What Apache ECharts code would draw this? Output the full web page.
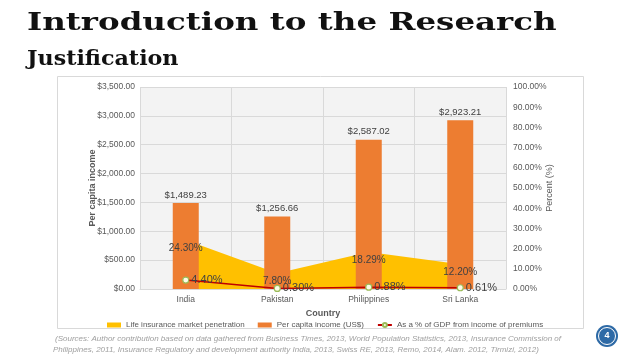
<!DOCTYPE html>
<html>
<head>
<meta charset="utf-8">
<script src="https://cdn.jsdelivr.net/npm/echarts@6/dist/echarts.min.js"></script>
<style>
html,body{margin:0;padding:0;background:#fff;}
#chart{width:638px;height:359px;}
</style>
</head>
<body>
<div id="chart"></div>
<script>
var countries = ['India', 'Pakistan', 'Philippines', 'Sri Lanka'];
var penetration = [24.30, 7.80, 18.29, 12.20];
var perCapitaIncome = [1489.23, 1256.66, 2587.02, 2923.21];
var gdpShare = [4.40, 0.30, 0.88, 0.61];
var seriesNames = ['Life insurance market penetration', 'Per capita income (US$)', 'As a % of GDP from income of premiums'];

function money(v) {
  return '$' + Number(v).toLocaleString('en-US', {minimumFractionDigits: 2, maximumFractionDigits: 2});
}
function pct(v) { return Number(v).toFixed(2) + '%'; }

var chart = echarts.init(document.getElementById('chart'), null, {renderer: 'canvas'});
var axisText = {color: '#595959', fontSize: 8.5, fontFamily: 'Liberation Sans'};

chart.setOption({
  backgroundColor: '#ffffff',
  animation: false,
  graphic: [
    {type: 'rect', z: -10, shape: {x: 57.5, y: 76.5, width: 526, height: 252}, style: {fill: '#fff', stroke: '#d9d9d9', lineWidth: 1}},
    {type: 'text', x: 27, y: 11, scaleX: 1.3, style: {x: 0, y: 0, text: 'Introduction to the Research', font: 'bold 25px "DejaVu Serif"', fill: '#111', verticalAlign: 'top'}},
    {type: 'text', x: 27, y: 50, scaleX: 1.11, style: {x: 0, y: 0, text: 'Justification', font: 'bold 20px "DejaVu Serif"', fill: '#111', verticalAlign: 'top'}},
    {type: 'text', left: 55, top: 335, style: {text: '(Sources: Author contribution based on data gathered from Business Times, 2013, World Population Statistics, 2013, Insurance Commission of', font: 'italic 8px "Liberation Sans"', fill: '#a0a0a0'}},
    {type: 'text', left: 53, top: 346, style: {text: 'Philippines, 2011, Insurance Regulatory and development authority India, 2013, Swiss RE, 2013, Remo, 2014, Alam. 2012, Tirmizi, 2012)', font: 'italic 8px "Liberation Sans"', fill: '#a0a0a0'}},
    {type: 'circle', shape: {cx: 607, cy: 336, r: 11}, style: {fill: '#2e6aa6'}},
    {type: 'circle', shape: {cx: 607, cy: 336, r: 8.5}, style: {fill: 'none', stroke: '#ffffff', lineWidth: 1}},
    {type: 'text', x: 607, y: 336, style: {text: '4', font: 'bold 9px "Liberation Sans"', fill: '#fff', align: 'center', verticalAlign: 'middle'}}
  ],
  grid: {left: 140, right: 132, top: 87, bottom: 70, show: true, backgroundColor: '#f3f3f3', borderWidth: 0},
  legend: {
    left: 102, top: 316, itemWidth: 14, itemHeight: 5, itemGap: 13,
    textStyle: {color: '#595959', fontSize: 8, fontFamily: 'Liberation Sans'},
    data: [
      {name: seriesNames[0], icon: 'rect'},
      {name: seriesNames[1], icon: 'rect'},
      {name: seriesNames[2]}
    ]
  },
  xAxis: {
    type: 'category', data: countries,
    name: 'Country', nameLocation: 'middle', nameGap: 17,
    nameTextStyle: {color: '#595959', fontSize: 9, fontWeight: 'bold', fontFamily: 'Liberation Sans'},
    axisLine: {lineStyle: {color: '#d9d9d9'}},
    axisTick: {show: false},
    axisLabel: Object.assign({margin: 6}, axisText),
    splitLine: {show: true, lineStyle: {color: '#d9d9d9'}}
  },
  yAxis: [
    {
      type: 'value', min: 0, max: 3500, interval: 500,
      name: 'Per capita income', nameLocation: 'middle', nameGap: 43, nameRotate: 90, nameMoveOverlap: false,
      nameTextStyle: {color: '#595959', fontSize: 9, fontWeight: 'bold', fontFamily: 'Liberation Sans'},
      axisLine: {show: false}, axisTick: {show: false},
      axisLabel: Object.assign({margin: 5, formatter: money}, axisText),
      splitLine: {lineStyle: {color: '#d9d9d9'}}
    },
    {
      type: 'value', min: 0, max: 100, interval: 10,
      name: 'Percent (%)', nameLocation: 'middle', nameGap: 39, nameRotate: 90, nameMoveOverlap: false,
      nameTextStyle: {color: '#595959', fontSize: 9, fontFamily: 'Liberation Sans'},
      axisLine: {show: false}, axisTick: {show: false},
      axisLabel: Object.assign({margin: 7, formatter: pct}, axisText),
      splitLine: {show: false}
    }
  ],
  series: [
    {
      name: seriesNames[0], type: 'line', yAxisIndex: 1, data: penetration,
      z: 1, symbol: 'none', showSymbol: false,
      itemStyle: {color: '#FFC000'},
      lineStyle: {width: 0, color: '#FFC000'},
      areaStyle: {color: '#FFC000', opacity: 1}
    },
    {
      name: seriesNames[1], type: 'bar', yAxisIndex: 0, data: perCapitaIncome,
      z: 2, barWidth: 26,
      itemStyle: {color: '#ED7D31'},
      label: {show: true, position: 'top', distance: 3, formatter: function (p) { return money(p.value); },
        color: '#404040', fontSize: 9.5, fontFamily: 'Liberation Sans'}
    },
    {
      name: seriesNames[0] + ' labels', type: 'line', yAxisIndex: 1, data: penetration,
      z: 4, symbol: 'circle', symbolSize: 2, showSymbol: true, silent: true,
      itemStyle: {color: 'rgba(0,0,0,0)', borderWidth: 0}, lineStyle: {width: 0, color: 'rgba(0,0,0,0)'},
      label: {show: true, position: 'bottom', distance: 2, formatter: function (p) { return pct(p.value); },
        color: '#404040', fontSize: 10, fontFamily: 'Liberation Sans'}
    },
    {
      name: seriesNames[2], type: 'line', yAxisIndex: 1, data: gdpShare,
      z: 3, symbol: 'circle', symbolSize: 6, showSymbol: true,
      lineStyle: {color: '#C00000', width: 1.5},
      itemStyle: {color: '#fdfde8', borderColor: '#9bbb59', borderWidth: 1.2},
      label: {show: true, position: 'right', distance: 2, formatter: function (p) { return pct(p.value); },
        color: '#404040', fontSize: 11, fontFamily: 'Liberation Sans'}
    }
  ]
});
</script>
</body>
</html>
